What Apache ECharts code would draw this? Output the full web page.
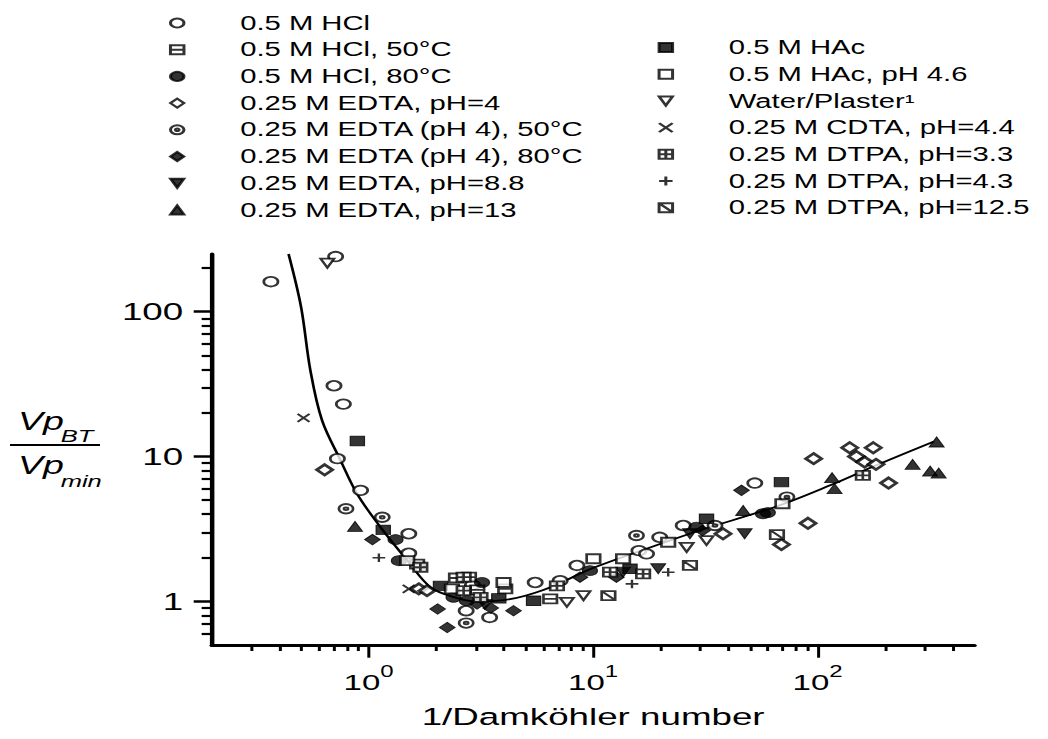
<!DOCTYPE html>
<html><head><meta charset="utf-8">
<script src="https://cdn.jsdelivr.net/npm/echarts@6.0.0/dist/echarts.min.js"></script>
<style>
html,body{margin:0;padding:0;background:#fff;overflow:hidden;width:1048px;height:739px}
#chart{width:699px;height:739px;transform:scaleX(1.49928);transform-origin:0 0;}
</style></head><body><div id="chart"></div>
<script>
// ---- data (x = 1/Damköhler number, y = Vp_BT / Vp_min) ----
const hcl      = [[0.367,161],[0.713,240],[0.701,30.8],[0.772,23],[0.726,9.67],[0.921,5.84],[1.51,2.93],[1.51,2.15],[2.72,0.862],[3.46,0.775],[5.52,1.35],[7.13,1.39],[8.47,1.77],[16.0,2.24],[17.3,2.13],[19.8,2.77],[25.2,3.34],[52.5,6.56],[2.9,1.3]];
const hcl50    = [[1.645,1.81],[2.45,1.45],[2.8,1.47],[3.05,1.2],[4.06,1.22],[6.44,1.04]];
const hcl80    = [[1.318,2.67],[1.364,1.91],[3.2,1.35],[2.39,1.066],[2.74,1.01],[9.68,1.63],[28.9,3.25],[57.1,4.03],[60,4.1]];
const edta4    = [[0.637,8.1],[1.673,1.22],[1.82,1.186],[37.9,2.93],[69,2.47],[90.6,3.46],[96,9.67],[139,11.5],[149,10.0],[162,9.16],[182,8.83],[177,11.5],[207,6.56]];
const edta4_50 = [[0.793,4.36],[1.15,3.81],[2.72,0.709],[15.6,2.85],[73,5.25],[34.9,3.34]];
const edta4_80 = [[1.04,2.67],[2.03,0.886],[2.24,0.66],[3.04,0.96],[4.42,0.862],[8.74,1.47],[12.7,1.47],[30.7,3.08],[45.8,5.84],[3.5,0.9]];
const edta88   = [[13.6,1.59],[19.5,1.68],[27,2.93],[47.3,2.93],[3.3,0.95]];
const edta13   = [[0.87,3.29],[46.6,4.24],[116,7.14],[119,6.0],[265,8.83],[339,12.6],[317,7.94],[346,7.69]];
const hac      = [[0.891,12.8],[1.162,3.12],[2.09,1.28],[5.43,1.01],[14.6,1.68],[32,3.72],[69,6.66],[3.8,1.05]];
const hac46    = [[1.486,1.91],[2.35,1.22],[3.99,1.35],[10.03,1.97],[13.6,1.97],[21.6,2.56],[69.7,4.72]];
const water    = [[0.655,216],[7.64,0.985],[9.06,1.095],[26.1,2.36],[32,2.63]];
const cdta     = [[0.513,18.5],[1.51,1.22]];
const dtpa33   = [[1.70,1.72],[2.65,1.47],[2.65,1.186],[3.15,1.066],[6.9,1.28],[11.9,1.59],[16.7,1.55],[159,7.41]];
const dtpa43   = [[1.111,2.0],[14.9,1.32],[21.6,1.59]];
const dtpa125  = [[11.7,1.095],[27,1.77],[65.9,2.89]];

const curveX = [0.44,0.5,0.55,0.62,0.75,0.89,1.13,1.49,1.89,2.4,3.0,4.0,6,10,20,30,65,113,189,330];
const curveY = [250,108,39.5,17.8,9.4,5.5,3.25,1.91,1.25,1.07,1.0,1.02,1.2,1.7,2.5,3.1,4.5,6.3,8.9,12.7];

const xMajor = [1,10,100];
const xMinor = [0.3,0.4,0.5,0.6,0.7,0.8,0.9,2,3,4,5,6,7,8,9,20,30,40,50,60,70,80,90,200,300,400];
const yMajor = [1,10,100];
const yMinor = [0.6,0.7,0.8,0.9,2,3,4,5,6,7,8,9,20,30,40,50,60,70,80,90,200];

const namesLeft = ['0.5 M HCl','0.5 M HCl, 50°C','0.5 M HCl, 80°C','0.25 M EDTA, pH=4','0.25 M EDTA (pH 4), 50°C','0.25 M EDTA (pH 4), 80°C','0.25 M EDTA, pH=8.8','0.25 M EDTA, pH=13'];
const namesRight = ['0.5 M HAc','0.5 M HAc, pH 4.6','Water/Plaster¹','0.25 M CDTA, pH=4.4','0.25 M DTPA, pH=3.3','0.25 M DTPA, pH=4.3','0.25 M DTPA, pH=12.5'];

// ---- symbols ----
const SYM = {
  circle: 'circle',
  rect: 'path://M0,0H10V10H0Z',
  rectLine: 'path://M0,0H10V10H0Z M0,5H10',
  rectGrid: 'path://M0,0H10V10H0Z M5,0V10 M0,5H10',
  rectDiag: 'path://M0,0H10V10H0Z M0,0L10,10',
  diamond: 'path://M5,0L10,5L5,10L0,5Z',
  triUp: 'path://M5,0L10,10H0Z',
  triDown: 'path://M0,0H10L5,10Z',
  cross: 'path://M0,0L10,10M10,0L0,10',
  plus: 'path://M5,0V10M0,5H10',
  circleDot: 'path://M10,5A5,5,0,1,1,0,5A5,5,0,1,1,10,5Z M6.4,5A1.4,1.4,0,1,1,3.6,5A1.4,1.4,0,1,1,6.4,5Z'
};
const OPEN = {color:'#fff', borderColor:'#000', borderWidth:1.8};
const FILL = {color:'#000', borderColor:'#000', borderWidth:0.8};
const LINE = {color:'#000', borderColor:'#000', borderWidth:1.6};

const seriesDefs = [
  [namesLeft[0], hcl, SYM.circle, OPEN, 9.5],
  [namesLeft[1], hcl50, SYM.rectLine, OPEN, 9],
  [namesLeft[2], hcl80, SYM.circle, FILL, 10],
  [namesLeft[3], edta4, SYM.diamond, {color:'#fff', borderColor:'#000', borderWidth:2.4}, 10.5],
  [namesLeft[4], edta4_50, SYM.circleDot, OPEN, 9.5],
  [namesLeft[5], edta4_80, SYM.diamond, FILL, 10.5],
  [namesLeft[6], edta88, SYM.triDown, FILL, 10],
  [namesLeft[7], edta13, SYM.triUp, FILL, 10],
  [namesRight[0], hac, SYM.rect, FILL, 9.5],
  [namesRight[1], hac46, SYM.rect, OPEN, 9],
  [namesRight[2], water, SYM.triDown, OPEN, 9],
  [namesRight[3], cdta, SYM.cross, LINE, 8],
  [namesRight[4], dtpa33, SYM.rectGrid, OPEN, 9],
  [namesRight[5], dtpa43, SYM.plus, LINE, 8.5],
  [namesRight[6], dtpa125, SYM.rectDiag, OPEN, 9]
];

const FONT = 'Liberation Sans, Arial, Helvetica, sans-serif';

const series = [{
  name: 'fit', type: 'line', xAxisIndex: 0, yAxisIndex: 0,
  data: curveX.map((x, i) => [x, curveY[i]]),
  smooth: 0.35, showSymbol: false, silent: true, z: 1,
  lineStyle: {color:'#000', width:1.8}
}];
seriesDefs.forEach(d => {
  series.push({
    name: d[0], type: 'scatter', xAxisIndex: 0, yAxisIndex: 0,
    data: d[1], symbol: d[2], symbolSize: d[4], itemStyle: d[3], z: 3
  });
});

const legendCommon = {
  orient: 'vertical', itemWidth: 74, itemHeight: 9, itemGap: 6.7,
  symbolKeepAspect: true, selectedMode: false,
  textStyle: {fontSize: 19.5, color: '#000', fontFamily: FONT}
};

const axisLineStyle = {color:'#000', width:3};

const option = {
  animation: false,
  backgroundColor: '#fff',
  textStyle: {fontFamily: FONT},
  grid: {left: 141.2, right: 49, top: 254, bottom: 94},
  legend: [
    Object.assign({data: namesLeft, left: 107.7, top: 8}, legendCommon),
    Object.assign({data: namesRight, left: 433.6, top: 32.5}, legendCommon)
  ],
  xAxis: [{
    type: 'log', logBase: 10, min: 0.2, max: 500, position: 'bottom', offset: 0,
    name: '1/Damköhler number', nameLocation: 'middle', nameGap: 59,
    nameTextStyle: {fontSize: 24.5, color: '#000', fontFamily: FONT},
    axisLine: {show: true, lineStyle: axisLineStyle},
    axisTick: {show: true, inside: false, length: 12.7, customValues: xMajor, lineStyle: {color:'#000', width:2}},
    minorTick: {show: false},
    splitLine: {show: false},
    axisLabel: {
      customValues: xMajor, margin: 19, color: '#000',
      formatter: v => '{b|10}{s|' + Math.round(Math.log10(v)) + '}',
      rich: {
        b: {fontSize: 22, lineHeight: 30, verticalAlign: 'bottom', color:'#000', fontFamily: FONT},
        s: {fontSize: 16, lineHeight: 16, verticalAlign: 'top', color:'#000', fontFamily: FONT}
      }
    }
  }, {
    type: 'log', logBase: 10, min: 0.2, max: 500, gridIndex: 0, position: 'bottom', offset: 0,
    axisLine: {show: false},
    axisTick: {show: true, inside: false, length: 6, customValues: xMinor, lineStyle: {color:'#000', width:2}},
    axisLabel: {show: false},
    splitLine: {show: false}
  }],
  yAxis: [{
    type: 'log', logBase: 10, min: 0.5, max: 250, position: 'left', offset: 0,
    axisLine: {show: true, lineStyle: axisLineStyle},
    axisTick: {show: true, inside: false, length: 12, customValues: yMajor, lineStyle: {color:'#000', width:2.5}},
    minorTick: {show: false},
    splitLine: {show: false},
    axisLabel: {customValues: yMajor, margin: 19, fontSize: 24.5, color: '#000', fontFamily: FONT}
  }, {
    type: 'log', logBase: 10, min: 0.5, max: 250, gridIndex: 0, position: 'left', offset: 0,
    axisLine: {show: false},
    axisTick: {show: true, inside: false, length: 6.7, customValues: yMinor, lineStyle: {color:'#000', width:2.2}},
    axisLabel: {show: false},
    splitLine: {show: false}
  }],
  graphic: [
    {type:'text', x: 12, y: 421, style: {text: 'Vp', font: 'italic 25px ' + FONT, fill:'#000', verticalAlign:'middle', align:'left'}},
    {type:'text', x: 40.5, y: 436, style: {text: 'BT', font: 'italic 17px ' + FONT, fill:'#000', verticalAlign:'middle', align:'left'}},
    {type:'line', shape: {x1: 6.7, y1: 445, x2: 66.7, y2: 445}, style: {stroke:'#000', lineWidth: 2}},
    {type:'text', x: 12, y: 465, style: {text: 'Vp', font: 'italic 25px ' + FONT, fill:'#000', verticalAlign:'middle', align:'left'}},
    {type:'text', x: 40.5, y: 481, style: {text: 'min', font: 'italic 17px ' + FONT, fill:'#000', verticalAlign:'middle', align:'left'}}
  ],
  series: series
};

const chart = echarts.init(document.getElementById('chart'), null, {renderer: 'svg'});
chart.setOption(option);
</script></body></html>
